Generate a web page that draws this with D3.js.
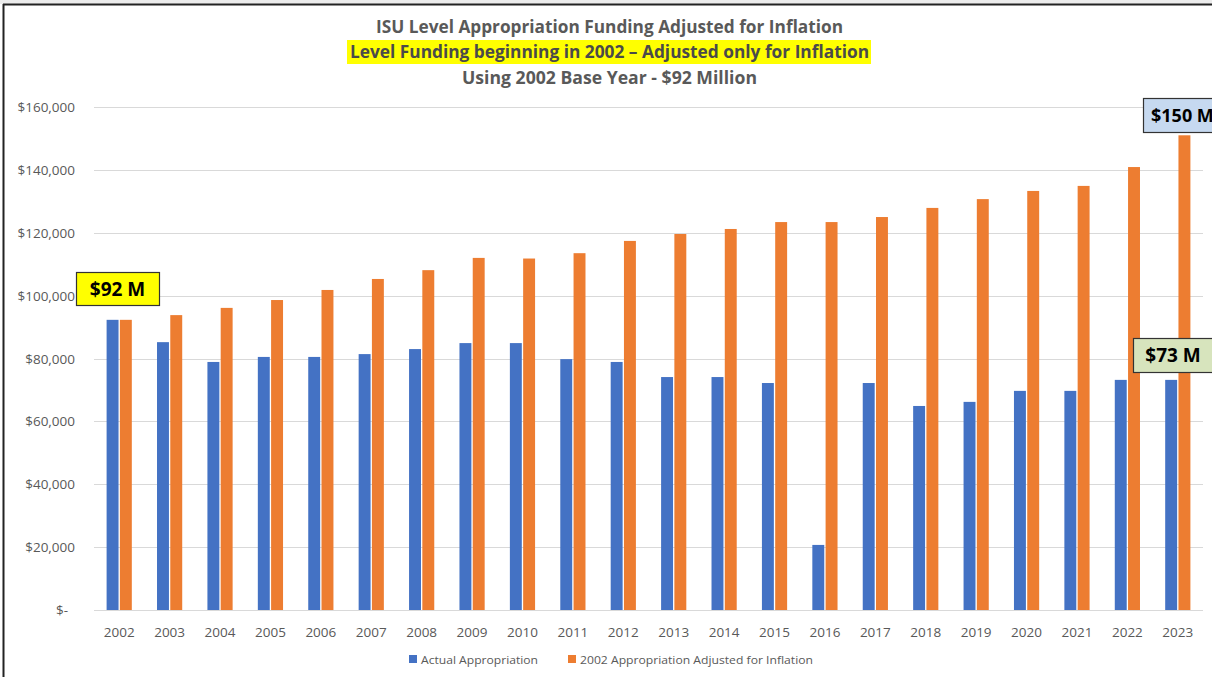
<!DOCTYPE html>
<html><head><meta charset="utf-8">
<script src="https://cdn.jsdelivr.net/npm/d3@7"></script>
<style>html,body{margin:0;padding:0;background:#fff;}svg{display:block;font-family:"Open Sans",sans-serif;}</style>
</head><body>
<svg id="c" width="1212" height="677"></svg>
<script>
const years = ["2002","2003","2004","2005","2006","2007","2008","2009","2010","2011","2012","2013","2014","2015","2016","2017","2018","2019","2020","2021","2022","2023"];
const actual = [92300,85200,78900,80500,80500,81400,83000,84900,84900,79800,78900,74100,74100,72200,20700,72200,64900,66200,69700,69700,73200,73200];
const adjusted = [92300,93800,96100,98600,101800,105300,108100,112000,111800,113500,117400,119600,121200,123400,123400,125000,127900,130700,133300,134900,140900,151000];
const seriesNames = ["Actual Appropriation","2002 Appropriation Adjusted for Inflation"];
const colors = ["#4472c4","#ed7d31"];
const yTicks = [0,20000,40000,60000,80000,100000,120000,140000,160000];
const titles = ["ISU Level Appropriation Funding Adjusted for Inflation","Level Funding beginning in 2002 \u2013 Adjusted only for Inflation","Using 2002 Base Year - $92 Million"];
const callouts = [
  {text:"$92 M", year:"2002", value:92300, fill:"#ffff00"},
  {text:"$150 M", year:"2023", value:151000, fill:"#c6d9f0"},
  {text:"$73 M", year:"2023", value:73200, fill:"#d7e4bd"}
];

const svg = d3.select("#c");
// frame
svg.append("rect").attr("x",0).attr("y",0).attr("width",1212).attr("height",4).attr("fill","#ececec");
svg.append("line").attr("x1",3).attr("x2",1212).attr("y1",4.5).attr("y2",4.5).attr("stroke","#222").attr("stroke-width",2);
svg.append("line").attr("x1",3.5).attr("x2",3.5).attr("y1",4).attr("y2",677).attr("stroke","#222").attr("stroke-width",2);

const x = d3.scaleBand().domain(years).range([94,1203]).paddingInner(0.5).paddingOuter(0.25);
const xs = d3.scaleBand().domain([0,1]).range([0,x.bandwidth()]).paddingInner(0.1);
const y = d3.scaleLinear().domain([0,160000]).range([610,107]);

// grid
svg.append("g").selectAll("line").data(yTicks).join("line")
  .attr("x1",94).attr("x2",1203).attr("y1",d=>Math.round(y(d))+0.5).attr("y2",d=>Math.round(y(d))+0.5)
  .attr("stroke","#d9d9d9").attr("stroke-width",1);

// y labels
const fmt = d3.format(",");
svg.append("g").selectAll("text").data(yTicks).join("text")
  .attr("x",d=>d===0?68:75).attr("y",d=>y(d)+5).attr("text-anchor","end")
  .attr("font-size",13.5).attr("fill","#595959")
  .text(d=>d===0?"$-":"$"+fmt(d));

// bars
const groups = svg.append("g").selectAll("g").data(years).join("g")
  .attr("transform",d=>`translate(${x(d)},0)`);
groups.selectAll("rect").data((d,i)=>[actual[i],adjusted[i]]).join("rect")
  .attr("x",(d,j)=>xs(j)).attr("width",xs.bandwidth())
  .attr("y",d=>y(d)).attr("height",d=>y(0)-y(d))
  .attr("fill",(d,j)=>colors[j]);

// baseline
svg.append("line").attr("x1",94).attr("x2",1203).attr("y1",610.5).attr("y2",610.5).attr("stroke","#d9d9d9");

// x labels
svg.append("g").selectAll("text").data(years).join("text")
  .attr("x",d=>x(d)+x.bandwidth()/2).attr("y",637).attr("text-anchor","middle")
  .attr("font-size",13.5).attr("fill","#595959").text(d=>d);

// titles
svg.append("rect").attr("x",347).attr("y",40).attr("width",524).attr("height",24).attr("fill","#ffff00");
const tl = [{y:33,len:467},{y:58,len:519},{y:84,len:295}];
svg.append("g").selectAll("text").data(titles).join("text")
  .attr("x",609.5).attr("y",(d,i)=>tl[i].y).attr("text-anchor","middle")
  .attr("font-size",18).attr("font-weight","bold").attr("fill",(d,i)=>i===1?"#4a4a4a":"#595959")
  .attr("textLength",(d,i)=>tl[i].len).attr("lengthAdjust","spacingAndGlyphs")
  .text(d=>d);

// legend
const lg = [{x:409,tx:421,len:117},{x:568,tx:580,len:233}];
const leg = svg.append("g").selectAll("g").data(seriesNames).join("g");
leg.append("rect").attr("x",(d,i)=>lg[i].x).attr("y",655).attr("width",8).attr("height",8).attr("fill",(d,i)=>colors[i]);
leg.append("text").attr("x",(d,i)=>lg[i].tx).attr("y",664).attr("font-size",11).attr("fill","#595959")
  .attr("textLength",(d,i)=>lg[i].len).attr("lengthAdjust","spacingAndGlyphs").text(d=>d);

// callouts
const cb = [
  {dx:-43, dy:-48, w:83, h:33, anchor:"middle", tx:41.5},
  {dx:-35, dy:-37, w:90, h:34, anchor:"start", tx:8},
  {dx:-45, dy:-42, w:100, h:34, anchor:"middle", tx:40}
];
callouts.forEach((c,i)=>{
  const cx = x(c.year)+x.bandwidth()/2;
  const g = svg.append("g").attr("transform",`translate(${Math.round(cx+cb[i].dx)},${Math.round(y(c.value)+cb[i].dy)})`);
  g.append("rect").attr("x",0.5).attr("y",0.5).attr("width",cb[i].w).attr("height",cb[i].h)
    .attr("fill",c.fill).attr("stroke","#333").attr("stroke-width",1.2);
  g.append("text").attr("x",cb[i].tx).attr("y",cb[i].h/2+7).attr("text-anchor",cb[i].anchor)
    .attr("font-size",i===1?18:19).attr("font-weight","bold").attr("fill","#000").text(c.text);
});
</script>
</body></html>
